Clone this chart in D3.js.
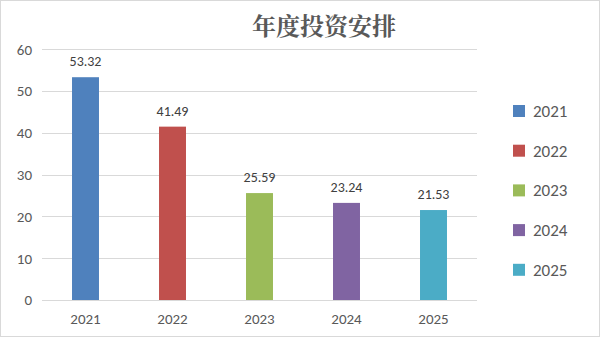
<!DOCTYPE html>
<html>
<head>
<meta charset="utf-8">
<script src="https://cdn.jsdelivr.net/npm/d3@7"></script>
<style>
  html, body { margin: 0; padding: 0; background: #fff; }
  svg { display: block; }
</style>
</head>
<body>
<svg id="chart" width="600" height="337"></svg>
<script>
const titleText = "年度投资安排";
const years = ["2021", "2022", "2023", "2024", "2025"];
const amounts = [53.32, 41.49, 25.59, 23.24, 21.53];
const colors = ["#4F81BD", "#C0504D", "#9BBB59", "#8064A2", "#4BACC6"];
const yTicks = [0, 10, 20, 30, 40, 50, 60];

const svg = d3.select("#chart");
const W = 600, H = 337;
const FONT = "Calibri, Carlito, 'Open Sans', sans-serif";

// outer frame
svg.append("rect")
  .attr("x", 0.5).attr("y", 0.5)
  .attr("width", W - 1).attr("height", H - 1)
  .attr("fill", "#fff").attr("stroke", "#d9d9d9");

const plot = { left: 42, right: 477, top: 49.3, bottom: 300 };

const x = d3.scaleBand()
  .domain(years)
  .range([plot.left, plot.right])
  .paddingInner(0.69)
  .paddingOuter(0.345);

const y = d3.scaleLinear()
  .domain([0, 60])
  .range([plot.bottom, plot.top]);

// gridlines
svg.append("g")
  .selectAll("line")
  .data(yTicks)
  .join("line")
  .attr("x1", plot.left).attr("x2", plot.right)
  .attr("y1", d => Math.round(y(d)) + 0.5)
  .attr("y2", d => Math.round(y(d)) + 0.5)
  .attr("stroke", "#d9d9d9").attr("stroke-width", 1);

// y axis labels
const yAxis = d3.axisLeft(y).tickValues(yTicks).tickSize(0).tickPadding(0);
const gy = svg.append("g")
  .attr("transform", `translate(${plot.left - 10},0)`)
  .call(yAxis);
gy.select(".domain").remove();
gy.selectAll("text")
  .attr("font-family", FONT)
  .attr("font-size", 15)
  .attr("fill", "#595959");

// x axis labels
const xAxis = d3.axisBottom(x).tickSize(0).tickPadding(0);
const gx = svg.append("g")
  .attr("transform", `translate(0,${plot.bottom + 13})`)
  .call(xAxis);
gx.select(".domain").remove();
gx.selectAll("text")
  .attr("font-family", FONT)
  .attr("font-size", 15)
  .attr("fill", "#595959");

// bars
svg.append("g")
  .selectAll("rect")
  .data(years)
  .join("rect")
  .attr("x", d => x(d))
  .attr("width", x.bandwidth())
  .attr("y", (d, i) => y(amounts[i]))
  .attr("height", (d, i) => y(0) - y(amounts[i]))
  .attr("fill", (d, i) => colors[i]);

// value labels
svg.append("g")
  .selectAll("text")
  .data(years)
  .join("text")
  .attr("x", d => x(d) + x.bandwidth() / 2)
  .attr("y", (d, i) => y(amounts[i]) - 11)
  .attr("text-anchor", "middle")
  .attr("font-family", FONT)
  .attr("font-size", 14)
  .attr("fill", "#404040")
  .text((d, i) => amounts[i].toFixed(2));

// title
svg.append("text")
  .attr("x", 324).attr("y", 35)
  .attr("text-anchor", "middle")
  .attr("font-family", "'Noto Serif CJK SC', 'Noto Sans CJK SC', serif")
  .attr("font-weight", "bold")
  .attr("font-size", 24)
  .attr("fill", "#595959")
  .text(titleText);

// legend
const legend = svg.append("g")
  .selectAll("g")
  .data(years)
  .join("g")
  .attr("transform", (d, i) => `translate(513,${111 + i * 39.7})`);
legend.append("rect")
  .attr("x", 0).attr("y", -6)
  .attr("width", 12).attr("height", 12)
  .attr("fill", (d, i) => colors[i]);
legend.append("text")
  .attr("x", 20).attr("y", 6)
  .attr("font-family", FONT)
  .attr("font-size", 17)
  .attr("fill", "#595959")
  .text(d => d);
</script>
</body>
</html>
